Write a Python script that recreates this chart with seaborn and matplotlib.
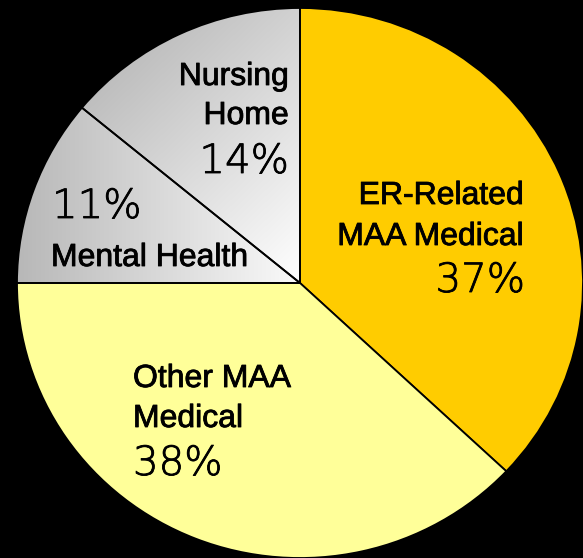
import numpy as np
import matplotlib
matplotlib.use("Agg")
import matplotlib.pyplot as plt
import matplotlib.patheffects as pe
import seaborn as sns

# ---- data ----
categories = ["ER-Related\nMAA Medical", "Other MAA\nMedical", "Mental Health", "Nursing\nHome"]
values = [37, 38, 11, 14]
pct_labels = ["37%", "38%", "11%", "14%"]
colors = ["#FFCC00", "#FFFF99", "#C0C0C0", "#D8D8D8"]

sns.set_theme(style="white")
plt.rcParams["font.family"] = ["Liberation Sans", "DejaVu Sans"]

W, H = 583, 558
fig = plt.figure(figsize=(W / 100, H / 100), dpi=100, facecolor="black")
ax = fig.add_axes([0, 0, 1, 1])
ax.set_facecolor("black")

wedges, _ = ax.pie(values, startangle=90, counterclock=False, colors=colors,
                   radius=1, center=(0, 0),
                   wedgeprops=dict(edgecolor="black", linewidth=1.3))

# ellipse in pixel space: rx = 283px, ry = 275px, center (300, 283 from top)
ax.set_aspect("auto")
ax.axis("off")

# gradient fills for the gray wedges
xs = np.linspace(-1.1, 1.1, 500)
ys = np.linspace(-1.1, 1.1, 500)
X, Y = np.meshgrid(xs, ys)

def grad_image(t, lo, hi, wedge):
    t = np.clip(t, 0, 1)
    v = lo + (hi - lo) * t
    img = np.dstack([v, v, v])
    im = ax.imshow(img, extent=(-1.1, 1.1, -1.1, 1.1), origin="lower",
                   aspect="auto", zorder=0.5, interpolation="bilinear")
    im.set_clip_path(wedge)
    wedge.set_facecolor("none")
    wedge.set_zorder(1)

# Mental Health: gray on left -> white toward center
grad_image((X + 1.0) / 1.0, 0.72, 0.98, wedges[2])
# Nursing Home: gray upper-left -> white lower-right
grad_image((X - Y + 1.45) / 1.45, 0.74, 1.0, wedges[3])

ax.set_xlim(-300 / 283, (W - 300) / 283)
ax.set_ylim(-(H - 283) / 275, 283 / 275)

# ---- labels (pixel positions from the top-left) ----
lab_fs = 23
pct_fs = 29
lab_font = ["Liberation Sans", "DejaVu Sans"]
pct_font = ["DejaVu Sans"]
lab_fx = [pe.withStroke(linewidth=0.6, foreground="black")]
pct_fx = [pe.withStroke(linewidth=0.6, foreground="black")]

def ptext(x, y, s, ha, kind):
    if kind == "lab":
        fig.text(x / W, 1 - y / H, s, ha=ha, va="baseline", fontsize=lab_fs,
                 family=lab_font, color="black", path_effects=lab_fx)
    else:
        fig.text(x / W, 1 - y / H, s, ha=ha, va="baseline", fontsize=pct_fs,
                 family=pct_font, fontweight="light", color="black",
                 path_effects=pct_fx)

# ER-Related
er1, er2 = categories[0].split("\n")
ptext(524, 204, er1, "right", "lab")
ptext(524, 245, er2, "right", "lab")
ptext(525, 292, pct_labels[0], "right", "pct")

# Other MAA
o1, o2 = categories[1].split("\n")
ptext(133, 387, o1, "left", "lab")
ptext(133, 427, o2, "left", "lab")
ptext(133, 475, pct_labels[1], "left", "pct")

# Mental Health
ptext(52, 218, pct_labels[2], "left", "pct")
ptext(51, 266, categories[2], "left", "lab")

# Nursing Home
n1, n2 = categories[3].split("\n")
ptext(289, 85, n1, "right", "lab")
ptext(289, 124, n2, "right", "lab")
ptext(289, 173, pct_labels[3], "right", "pct")

fig.savefig("out.png", dpi=100, facecolor="black")
